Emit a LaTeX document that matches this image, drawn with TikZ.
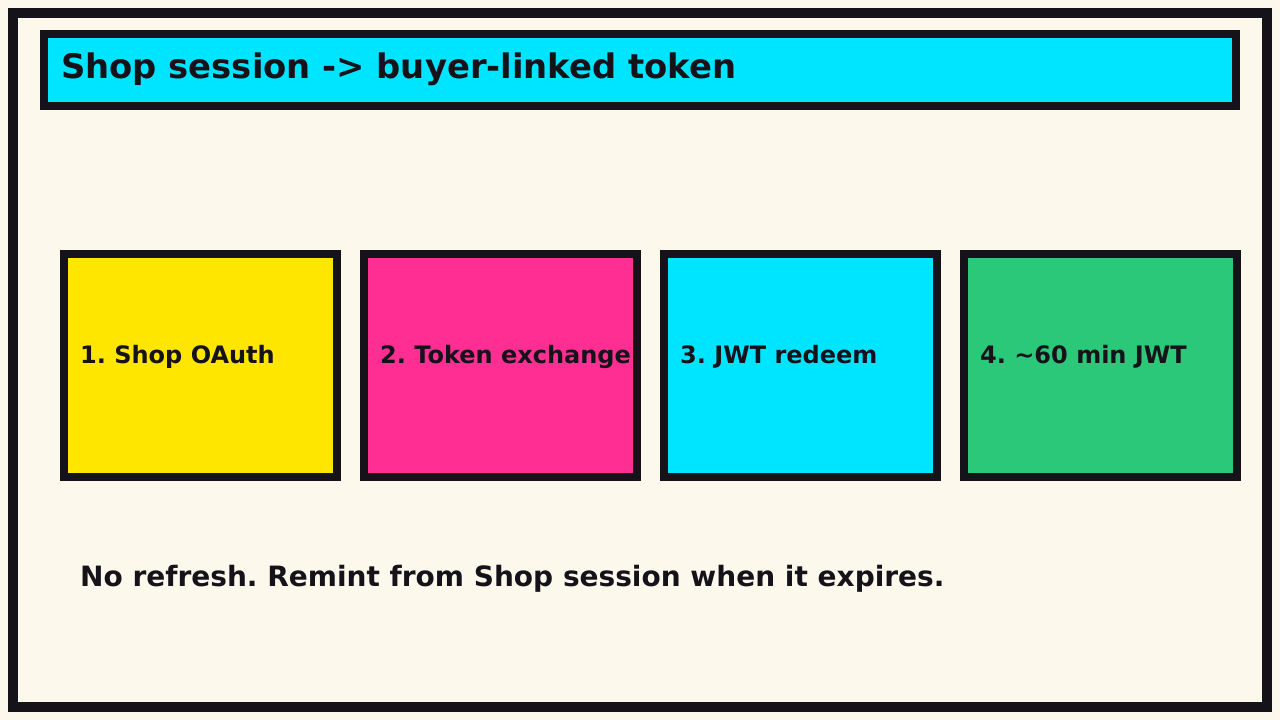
\documentclass[tikz,border=0pt]{standalone}
\usepackage{fontspec}
\setmainfont{DejaVu Sans}
\frenchspacing
\definecolor{cream}{HTML}{FDF8EC}
\definecolor{ink}{HTML}{15121A}
\definecolor{skycyan}{HTML}{00E5FF}
\definecolor{sunyellow}{HTML}{FFE600}
\definecolor{hotpink}{HTML}{FF2E93}
\definecolor{mintgreen}{HTML}{2BC87A}
\tikzset{
  stepbox/.style={draw=ink, line width=8pt, minimum width=273pt, minimum height=223pt, inner sep=0pt},
  steplabel/.style={anchor=base west, inner sep=0pt, text=ink, font=\fontsize{24}{28}\selectfont\bfseries},
}
\begin{document}
\begin{tikzpicture}[x=1pt, y=-1pt]
      % page background and frame
      \fill[cream] (0,0) rectangle (1280,720);
      \useasboundingbox (0,0) rectangle (1280,720);
      \draw[ink, line width=10pt] (13,13) rectangle (1267,707);
      % title bar
      \node[draw=ink, fill=skycyan, line width=8pt, minimum width=1192pt, minimum height=72pt, inner sep=0pt] (title) at (640,70) {};
      \node[anchor=base west, inner sep=0pt, text=ink, font=\fontsize{33.8}{38}\selectfont\bfseries] (titletext) at (61,78) {Shop session -> buyer-linked token};
      % the four steps
      \node[stepbox, fill=sunyellow] (oauth) at (200.5,365.5) {};
      \node[steplabel] (oauthtext) at (80,363) {1. Shop OAuth};
      \node[stepbox, fill=hotpink] (exchange) at (500.5,365.5) {};
      \node[steplabel] (exchangetext) at (380,363) {2. Token exchange};
      \node[stepbox, fill=skycyan] (redeem) at (800.5,365.5) {};
      \node[steplabel] (redeemtext) at (680,363) {3. JWT redeem};
      \node[stepbox, fill=mintgreen] (jwt) at (1100.5,365.5) {};
      \node[steplabel] (jwttext) at (980,363) {4. \textasciitilde60 min JWT};
      % footnote
      \node[anchor=base west, inner sep=0pt, text=ink, font=\fontsize{28}{32}\selectfont\bfseries] (note) at (80,586) {No refresh. Remint from Shop session when it expires.};
    \end{tikzpicture}
\end{document}
